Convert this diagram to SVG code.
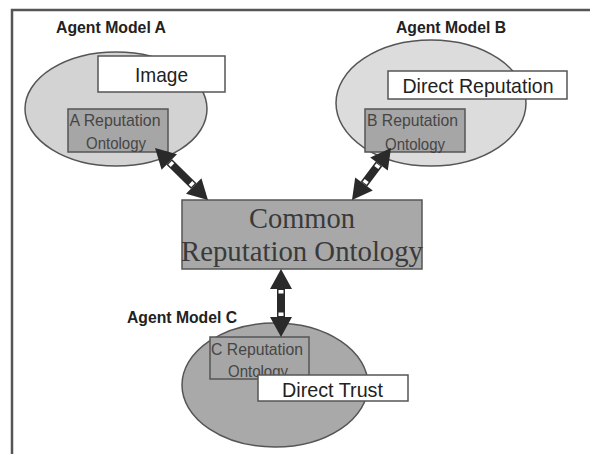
<svg xmlns="http://www.w3.org/2000/svg" width="590" height="454" viewBox="0 0 590 454">
<style>
.frame{stroke:#555;stroke-width:2.5;fill:none}
.lbl{font-family:"Liberation Sans",Arial,sans-serif;font-weight:bold;font-size:17px;fill:#222}
.ell{stroke:#555;stroke-width:1.5}
.wbox{fill:#fff;stroke:#555;stroke-width:1.5}
.obox{fill:#a6a6a6;stroke:#555;stroke-width:1.5}
.wtxt{font-family:"Liberation Sans",Arial,sans-serif;font-size:21px;fill:#222;text-anchor:middle}
.otxt{font-family:"Liberation Sans",Arial,sans-serif;font-size:17px;fill:#454545;text-anchor:middle}
.ctxt{font-family:"Liberation Serif","Times New Roman",serif;font-size:28.5px;fill:#3a3a3a;text-anchor:middle}
.arr{stroke:#2a2a2a;stroke-width:8;fill:none;marker-start:url(#head);marker-end:url(#head)}
</style>
<defs>
<marker id="head" markerUnits="userSpaceOnUse" markerWidth="40" markerHeight="40" refX="0" refY="0" orient="auto-start-reverse" overflow="visible">
<polygon points="0,-11 20,0 0,11" fill="#2a2a2a"/>
<rect x="-4.5" y="-2.5" width="3.5" height="5" fill="#fff"/>
</marker>
</defs>
<g id="frame">
<path class="frame" d="M12,454 V10 H590"/>
</g>
<g id="agentA">
<text class="lbl" x="56" y="33" textLength="110" lengthAdjust="spacingAndGlyphs">Agent Model A</text>
<ellipse class="ell" cx="116" cy="109" rx="91" ry="57" fill="#d3d3d3"/>
</g>
<g id="imageBox">
<rect class="wbox" x="98" y="56" width="127" height="36"/>
<text class="wtxt" x="161.5" y="82" textLength="53" lengthAdjust="spacingAndGlyphs">Image</text>
</g>
<g id="ontA">
<rect class="obox" x="68" y="109" width="100" height="43"/>
<text class="otxt" x="115" y="126" textLength="91" lengthAdjust="spacingAndGlyphs">A Reputation</text>
<text class="otxt" x="116" y="149" textLength="60" lengthAdjust="spacingAndGlyphs">Ontology</text>
</g>
<g id="agentB">
<text class="lbl" x="396" y="33" textLength="110" lengthAdjust="spacingAndGlyphs">Agent Model B</text>
<ellipse class="ell" cx="431" cy="103" rx="95" ry="63" fill="#dcdcdc"/>
</g>
<g id="directRep">
<rect class="wbox" x="388" y="71" width="179" height="28"/>
<text class="wtxt" x="478" y="93" textLength="151" lengthAdjust="spacingAndGlyphs">Direct Reputation</text>
</g>
<g id="ontB">
<rect class="obox" x="365" y="109" width="100" height="43"/>
<text class="otxt" x="412.5" y="126" textLength="91" lengthAdjust="spacingAndGlyphs">B Reputation</text>
<text class="otxt" x="415" y="150" textLength="60" lengthAdjust="spacingAndGlyphs">Ontology</text>
</g>
<g id="common">
<rect x="182" y="200" width="240" height="69" fill="#a8a8a8" stroke="#555" stroke-width="1.5"/>
<text class="ctxt" x="302" y="228">Common</text>
<text class="ctxt" x="302" y="261" textLength="242" lengthAdjust="spacingAndGlyphs">Reputation Ontology</text>
</g>
<g id="agentC">
<text class="lbl" x="127" y="323" textLength="110" lengthAdjust="spacingAndGlyphs">Agent Model C</text>
<ellipse class="ell" cx="275" cy="385" rx="93" ry="62" fill="#a9a9a9"/>
</g>
<g id="ontC">
<rect class="obox" x="210" y="337" width="99" height="42" fill="#a9a9a9"/>
<text class="otxt" x="257" y="355" textLength="92" lengthAdjust="spacingAndGlyphs">C Reputation</text>
<text class="otxt" x="258" y="377" textLength="60" lengthAdjust="spacingAndGlyphs">Ontology</text>
</g>
<g id="directTrust">
<rect class="wbox" x="258" y="375" width="150" height="26"/>
<text class="wtxt" x="332.5" y="397" textLength="101" lengthAdjust="spacingAndGlyphs">Direct Trust</text>
</g>
<g id="connectors">
<line class="arr" x1="169.3" y1="162" x2="193.7" y2="186"/>
<line class="arr" x1="379" y1="164" x2="364" y2="184"/>
<line class="arr" x1="281" y1="289" x2="281" y2="317"/>
</g>
</svg>
